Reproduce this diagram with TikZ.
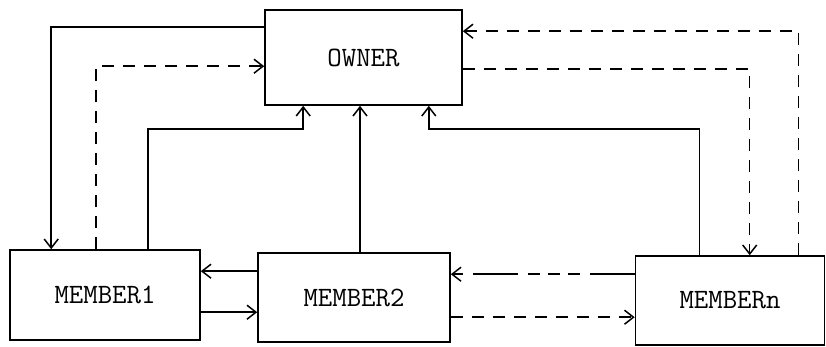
\documentclass[tikz,border=0pt]{standalone}
\usepackage{tikz}
\usetikzlibrary{arrows.meta, positioning}

\begin{document}
\begin{tikzpicture}[
  x=1pt, y=-1pt,
  box/.style={rectangle, draw, line width=1.6pt, inner sep=0pt, font=\ttfamily\fontsize{28}{32}\selectfont},
  link/.style={line width=1.5pt, -{Straight Barb[length=9pt, width=14pt, line width=1.5pt]}},
  dashedlink/.style={link, dash pattern=on 12pt off 9pt},
  dashdotlink/.style={link, dash pattern=on 45pt off 10pt on 12pt off 8pt on 12pt off 8pt on 12pt off 10pt}
]
  \useasboundingbox (0,0) rectangle (826,346);

  \node[box, minimum width=197pt, minimum height=95pt] (owner) at (363.5,57.5) {OWNER};
  \node[box, minimum width=190pt, minimum height=90pt] (m1) at (105,295) {MEMBER1};
  \node[box, minimum width=192pt, minimum height=89pt] (m2) at (354,297.5) {MEMBER2};
  \node[box, minimum width=189pt, minimum height=89pt] (mn) at (730,300.5) {MEMBERn};

  % owner <-> member1
  \draw[link] ([yshift=-18pt]owner.north west) -| ([xshift=42pt]m1.north west);
  \draw[dashedlink] ([xshift=87pt]m1.north west) |- ([yshift=-57pt]owner.north west);
  \draw[link] ([xshift=139pt]m1.north west) |- ([xshift=39pt, yshift=-23pt]owner.south west) -- ([xshift=39pt]owner.south west);

  % member2 -> owner
  \draw[link] ([xshift=6pt]m2.north) -- ([xshift=-3.5pt]owner.south);

  % owner <-> membern
  \draw[link] ([xshift=65pt]mn.north west) |- ([xshift=-34pt, yshift=-23pt]owner.south east) -- ([xshift=-34pt]owner.south east);
  \draw[dashedlink] ([yshift=-60pt]owner.north east) -| ([xshift=115pt]mn.north west);
  \draw[dashedlink] ([xshift=164pt]mn.north west) |- ([yshift=-22pt]owner.north east);

  % between members
  \draw[link] ([yshift=-19pt]m2.north west) -- ([yshift=-22pt]m1.north east);
  \draw[link] ([yshift=-63pt]m1.north east) -- ([yshift=-60pt]m2.north west);
  \draw[dashdotlink] ([yshift=-19pt]mn.north west) -- ([yshift=-22pt]m2.north east);
  \draw[dashedlink] ([yshift=-65pt]m2.north east) -- ([yshift=-62pt]mn.north west);
\end{tikzpicture}
\end{document}
